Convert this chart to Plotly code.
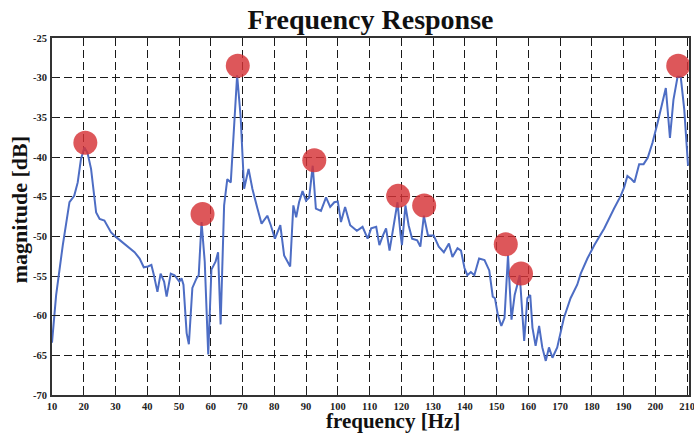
import plotly.graph_objects as go

freq_hz = [10, 11.3, 13.4, 15.5, 17, 18.1, 19.1, 20.2, 21.2, 22.3, 23.9, 25, 26.5, 27.6, 28.6, 30.2,
           32.8, 36, 37.6, 38.9, 40.2, 41.3, 42.1, 43.2, 44.2, 45.3, 46.1, 47.4, 48.6, 49.5, 50.1,
           50.8, 51.4, 52.4, 53.1, 54.2, 55.5, 56.2, 57.1, 58.1, 59.2, 60.2, 61.5, 62.3, 63.1, 64.2,
           65.2, 66.3, 67.3, 68.3, 69.4, 70.5, 71.9, 73.1, 74.7, 76, 77.8, 78.9, 80.2, 81.9, 83.1,
           85, 86, 86.9, 87.8, 88.9, 90, 91, 92.1, 93.1, 94.7, 96.3, 97.6, 98.9, 100, 101, 102.3,
           103.9, 106, 107.8, 109.4, 110.5, 112.1, 113.1, 114.2, 115.2, 116.3, 117.4, 118.8, 119.8,
           120.2, 121.3, 122.3, 123.4, 125, 126, 127.1, 128.4, 130.2, 131.8, 133.4, 135, 136.1,
           137.7, 138.8, 139.9, 140.8, 141.9, 143, 144.5, 146.2, 147.7, 148.8, 149.5, 150.4, 151.5,
           152.5, 153.6, 154.7, 155.7, 157.3, 158.7, 159.7, 160.6, 161.3, 162.3, 163.4, 164.4,
           165.5, 166.5, 167.6, 169.1, 171.2, 173.3, 175.4, 176.5, 178.6, 180.8, 183.9, 187, 189.1,
           190.2, 191.2, 192.5, 193.4, 194.9, 196.3, 197.6, 199.1, 200.7, 201.7, 203.3, 204.6,
           205.7, 207, 208, 209.1, 210.3]

magnitude_db = [-63.4, -57.4, -51.1, -45.7, -44.9, -43.2, -40.3, -38.8, -39.5, -41.5, -47, -47.8, -48,
                -48.8, -49.5, -50.1, -50.9, -52, -52.8, -53.9, -53.8, -53.6, -54.9, -57, -54.7, -55.7,
                -57.6, -54.7, -54.9, -55.3, -55.7, -55.3, -56.1, -62.2, -63.6, -56.5, -55.3, -54.9,
                -48.2, -53.2, -64.9, -54.2, -53.2, -52, -61.1, -46.1, -42.8, -43.2, -36.5, -29.7,
                -34.9, -44, -41.5, -44, -46.5, -48.4, -47.4, -48.6, -50.3, -48.6, -52.4, -53.8, -46.1,
                -47.6, -45.7, -44.3, -45.5, -45.1, -41.1, -46.5, -46.8, -45.1, -46.3, -45.7, -45.6,
                -48.2, -46.3, -48.6, -49.3, -48.8, -50.3, -49, -48.8, -51.1, -49.9, -49, -51.8, -49,
                -45.7, -49.9, -51.1, -46.1, -48.6, -50.3, -50.5, -51.3, -47.4, -49.9, -49.9, -51.3,
                -52, -50.9, -52.6, -51.5, -51.8, -54, -54.9, -54.5, -54.9, -52.8, -53, -54.3, -57.6,
                -57.8, -59.9, -61.3, -60.3, -52.4, -60.5, -57.4, -54.9, -63.2, -57.8, -57.4, -61.5,
                -63.8, -61.3, -64, -65.7, -64, -65.3, -64, -60.3, -57.8, -56.1, -54.7, -52.8, -51.1,
                -49, -46.5, -44.9, -43.8, -42.4, -42.8, -43.2, -40.9, -40.9, -40.1, -38.2, -35.7, -34,
                -31.3, -37.6, -32.8, -29.9, -29.9, -34, -41.1]

peak_hz = [20.5, 57.4, 68.5, 92.6, 119, 127.2, 152.9, 157.7, 207.2]
peak_db = [-38.2, -47.2, -28.5, -40.4, -44.9, -46.1, -51, -54.7, -28.5]

x_ticks = list(range(10, 211, 10))
y_ticks = list(range(-70, -24, 5))

SERIF = "Liberation Serif"

fig = go.Figure()
fig.add_trace(go.Scatter(x=freq_hz, y=magnitude_db, mode="lines",
                         line=dict(color="#4d6dc4", width=2), hoverinfo="skip"))
fig.add_trace(go.Scatter(x=peak_hz, y=peak_db, mode="markers",
                         marker=dict(size=24, color="rgba(214,50,54,0.82)", line=dict(width=0)),
                         hoverinfo="skip"))

axis_common = dict(
    showgrid=True, gridcolor="#1a1a1a", gridwidth=1.3, griddash="8px,4px",
    showline=True, linecolor="#333333", linewidth=2, mirror=True,
    ticks="inside", ticklen=5, tickcolor="#222222", tickwidth=1.3,
    zeroline=False, automargin=False, ticklabeloverflow="allow",
    tickfont=dict(family=SERIF, size=10.5, color="#222222", weight="bold"),
)

fig.update_layout(
    width=694, height=436,
    margin=dict(l=52, r=5, t=38, b=41),
    paper_bgcolor="white", plot_bgcolor="white",
    showlegend=False,
    title=dict(text="<b>Frequency Response</b>", x=0.5, xref="paper", y=0.955, yref="container",
               yanchor="middle", font=dict(family=SERIF, size=28, color="#111111")),
    xaxis=dict(range=[10, 210.6], tickvals=x_ticks, ticktext=[str(v) for v in x_ticks],
               ticklabelstandoff=0, **axis_common),
    yaxis=dict(range=[-70, -25], tickvals=y_ticks, ticktext=[str(v) for v in y_ticks],
               ticklabelstandoff=1, **axis_common),
    annotations=[
        dict(text="<b>frequency [Hz]</b>", xref="paper", yref="paper", x=0.535, y=-0.113,
             xanchor="center", yanchor="bottom", showarrow=False,
             font=dict(family=SERIF, size=21, color="#111111")),
        dict(text="<b>magnitude [dB]</b>", xref="paper", yref="paper", x=-0.052, y=0.52,
             xanchor="center", yanchor="middle", showarrow=False, textangle=-90,
             font=dict(family=SERIF, size=22, color="#111111")),
    ],
)

fig.write_html("out.html", config={"displayModeBar": False},
               post_script="document.body.style.margin='0';")
